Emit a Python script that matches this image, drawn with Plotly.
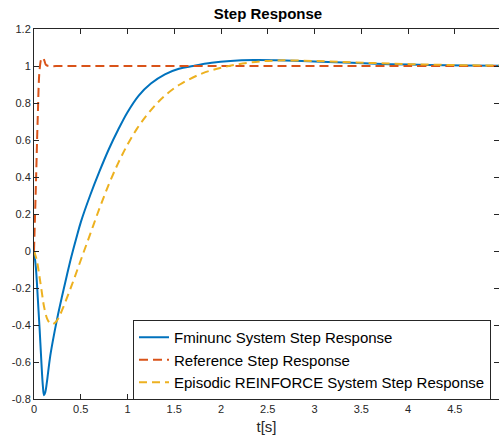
import plotly.graph_objects as go

# Time samples and step responses
t_fminunc = [0, 0.02, 0.04, 0.06, 0.08, 0.095, 0.107, 0.12, 0.135, 0.15, 0.17, 0.2, 0.25,
             0.3, 0.35, 0.4, 0.45, 0.5, 0.6, 0.7, 0.8, 0.9, 1.0, 1.12, 1.25, 1.4, 1.55, 1.7,
             1.9, 2.1, 2.35, 2.6, 3.0, 3.4, 3.8, 4.2, 4.6, 5.0]
y_fminunc = [0, -0.09, -0.25, -0.42, -0.61, -0.73, -0.78, -0.765, -0.72, -0.66, -0.58, -0.49,
             -0.36, -0.245, -0.135, -0.03, 0.065, 0.155, 0.30, 0.43, 0.55, 0.655, 0.75, 0.84,
             0.905, 0.955, 0.985, 1.0, 1.017, 1.027, 1.032, 1.031, 1.025, 1.017, 1.01, 1.006,
             1.003, 1.001]

t_reference = [0, 0.02, 0.04, 0.06, 0.08, 0.095, 0.11, 0.13, 0.16, 0.3, 1.0, 2.0, 3.0, 4.0, 5.0]
y_reference = [0, 0.35, 0.72, 0.98, 1.04, 1.045, 1.03, 1.005, 1.0, 1.0, 1.0, 1.0, 1.0, 1.0, 1.0]

t_reinforce = [0, 0.03, 0.053, 0.08, 0.107, 0.14, 0.17, 0.2, 0.23, 0.26, 0.3, 0.4, 0.5, 0.6,
               0.7, 0.8, 0.9, 1.0, 1.1, 1.2, 1.3, 1.4, 1.56, 1.8, 2.04, 2.3, 2.6, 3.0, 3.4,
               3.8, 4.2, 4.6, 5.0]
y_reinforce = [0, -0.05, -0.12, -0.21, -0.30, -0.365, -0.39, -0.395, -0.385, -0.365, -0.32,
               -0.19, -0.05, 0.09, 0.23, 0.36, 0.475, 0.575, 0.66, 0.73, 0.79, 0.84, 0.90,
               0.96, 0.995, 1.018, 1.03, 1.027, 1.02, 1.013, 1.008, 1.004, 1.002]

x_ticks = [0, 0.5, 1, 1.5, 2, 2.5, 3, 3.5, 4, 4.5]
x_tick_text = ["0", "0.5", "1", "1.5", "2", "2.5", "3", "3.5", "4", "4.5"]
y_ticks = [-0.8, -0.6, -0.4, -0.2, 0, 0.2, 0.4, 0.6, 0.8, 1, 1.2]
y_tick_text = ["-0.8", "-0.6", "-0.4", "-0.2", "0", "0.2", "0.4", "0.6", "0.8", "1", "1.2"]

FONT = "Liberation Sans, Arial, Helvetica, sans-serif"
AX = "#262626"

fig = go.Figure()
fig.add_trace(go.Scatter(x=t_fminunc, y=y_fminunc, mode="lines", line_shape="spline",
                         name="Fminunc System Step Response",
                         line=dict(color="#0072BD", width=2)))
fig.add_trace(go.Scatter(x=t_reference, y=y_reference, mode="lines", line_shape="spline",
                         name="Reference Step Response",
                         line=dict(color="#D95319", width=2, dash="9px,5px")))
fig.add_trace(go.Scatter(x=t_reinforce, y=y_reinforce, mode="lines", line_shape="spline",
                         name="Episodic REINFORCE System Step Response",
                         line=dict(color="#EDB120", width=2, dash="8px,5px")))

axis_common = dict(showgrid=False, zeroline=False, showline=True, linecolor=AX, linewidth=1,
                   mirror="ticks", ticks="inside", ticklen=5, tickcolor=AX, tickwidth=1,
                   tickfont=dict(family=FONT, size=11, color=AX))

fig.update_layout(
    width=499, height=440,
    margin=dict(l=34, r=0, t=29, b=41),
    paper_bgcolor="white", plot_bgcolor="white",
    font=dict(family=FONT, color="black"),
    title=dict(text="<b>Step Response</b>", x=268 / 499, xanchor="center",
               y=1 - 14 / 440, yanchor="middle",
               font=dict(family=FONT, size=15, color="black")),
    xaxis=dict(range=[0, 4.973], tickvals=x_ticks, ticktext=x_tick_text,
               title=dict(text="t[s]", font=dict(family=FONT, size=15, color=AX), standoff=7),
               **axis_common),
    yaxis=dict(range=[-0.8, 1.2], tickvals=y_ticks, ticktext=y_tick_text, **axis_common),
    legend=dict(x=(133 - 34) / 465, y=(399 - 320) / 370, xanchor="left", yanchor="top",
                bgcolor="white", bordercolor=AX, borderwidth=1,
                font=dict(family=FONT, size=15, color="black"),
                itemwidth=30, tracegroupgap=0),
    showlegend=True,
)

fig.write_html("out.html")
